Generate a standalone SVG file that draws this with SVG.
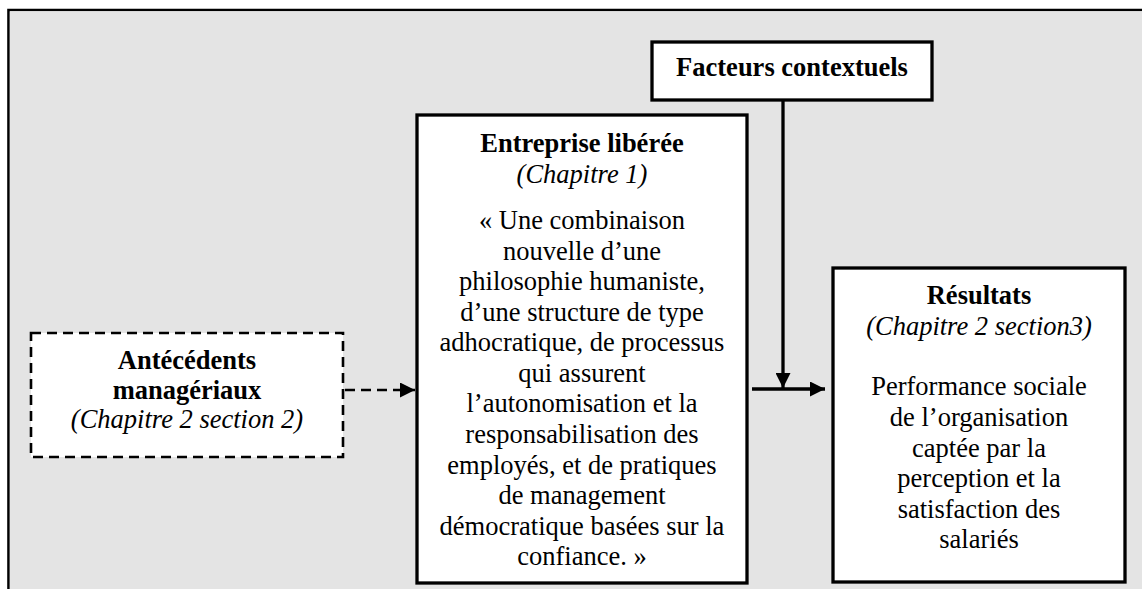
<svg xmlns="http://www.w3.org/2000/svg" width="1142" height="589" viewBox="0 0 1142 589">
<defs>
<style>
text{font-family:"Liberation Serif","Times New Roman",serif;font-size:26.5px;fill:#000;text-anchor:middle}
.b{font-weight:bold}
.i{font-style:italic}
.box{fill:#fff;stroke:#000;stroke-width:3.3}
.dbox{fill:#fff;stroke:#000;stroke-width:2.6;stroke-dasharray:10 6}
.ln{fill:none;stroke:#000;stroke-width:3.3}
.dln{fill:none;stroke:#000;stroke-width:2.6;stroke-dasharray:10 6}
</style>
<marker id="ah" viewBox="0 0 10 10" refX="10" refY="5" markerWidth="17" markerHeight="15" markerUnits="userSpaceOnUse" orient="auto">
<path d="M0,0 L10,5 L0,10 Z" fill="#000"/>
</marker>
</defs>
<rect x="0" y="0" width="1142" height="589" fill="#fff"/>
<path d="M8.5,589 V10 H1142" fill="none" stroke="#000" stroke-width="2.6"/>
<rect x="9.8" y="11.3" width="1133" height="578" fill="#e4e4e4"/>

<g id="connectors">
<line class="dln" x1="345" y1="390" x2="415" y2="390" marker-end="url(#ah)"/>
<line class="ln" x1="783" y1="101" x2="783" y2="388" marker-end="url(#ah)"/>
<line class="ln" x1="752" y1="389" x2="825" y2="389" marker-end="url(#ah)"/>
</g>

<g id="antecedents">
<rect class="dbox" x="31" y="333" width="312" height="124"/>
<text class="b" x="187" y="369">Antécédents</text>
<text class="b" x="187" y="399">managériaux</text>
<text class="i" x="187" y="428">(Chapitre 2 section 2)</text>
</g>

<g id="facteurs">
<rect class="box" x="652" y="42" width="280" height="58"/>
<text class="b" x="792" y="76">Facteurs contextuels</text>
</g>

<g id="entreprise">
<rect class="box" x="417" y="115" width="330" height="468"/>
<text class="b" x="582" y="152">Entreprise libérée</text>
<text class="i" x="582" y="183">(Chapitre 1)</text>
<text x="582" y="229">« Une combinaison</text>
<text x="582" y="260">nouvelle d’une</text>
<text x="582" y="290">philosophie humaniste,</text>
<text x="582" y="321">d’une structure de type</text>
<text x="582" y="351">adhocratique, de processus</text>
<text x="582" y="382">qui assurent</text>
<text x="582" y="412">l’autonomisation et la</text>
<text x="582" y="443">responsabilisation des</text>
<text x="582" y="474">employés, et de pratiques</text>
<text x="582" y="504">de management</text>
<text x="582" y="535">démocratique basées sur la</text>
<text x="582" y="565">confiance. »</text>
</g>

<g id="resultats">
<rect class="box" x="833" y="268" width="292" height="314"/>
<text class="b" x="979" y="304">Résultats</text>
<text class="i" x="979" y="335">(Chapitre 2 section3)</text>
<text x="979" y="395">Performance sociale</text>
<text x="979" y="426">de l’organisation</text>
<text x="979" y="457">captée par la</text>
<text x="979" y="487">perception et la</text>
<text x="979" y="518">satisfaction des</text>
<text x="979" y="548">salariés</text>
</g>
</svg>
